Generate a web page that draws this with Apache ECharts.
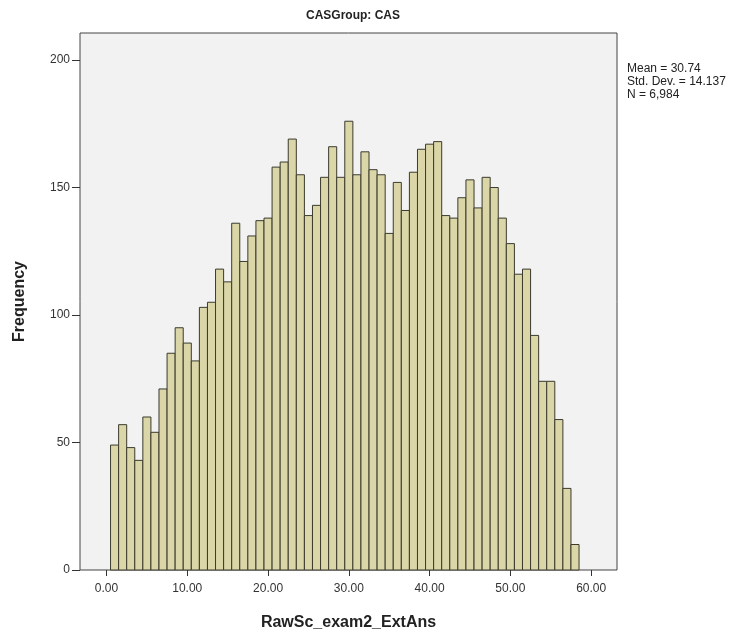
<!DOCTYPE html>
<html lang="en">

<head>
  <meta charset="UTF-8">
  <title>CASGroup: CAS</title>
  <script src="https://cdn.jsdelivr.net/npm/echarts@6/dist/echarts.min.js"></script>
</head>

<body style="margin:0;background:#fff;">
  <div id="main" style="width: 751px; height: 637px;"></div>
  <script>
    // bin centres (width 1) and the counts
    var binCenters = [1, 2, 3, 4, 5, 6, 7, 8, 9, 10, 11, 12, 13, 14, 15, 16, 17, 18, 19, 20,
      21, 22, 23, 24, 25, 26, 27, 28, 29, 30, 31, 32, 33, 34, 35, 36, 37, 38, 39, 40,
      41, 42, 43, 44, 45, 46, 47, 48, 49, 50, 51, 52, 53, 54, 55, 56, 57, 58]
    var counts = [49, 57, 48, 43, 60, 54, 71, 85, 95, 89,
      82, 103, 105, 118, 113, 136, 121, 131, 137, 138,
      158, 160, 169, 155, 139, 143, 154, 166, 154, 176,
      155, 164, 157, 155, 132, 152, 141, 156, 165, 167,
      168, 139, 138, 146, 153, 142, 154, 150, 138, 128,
      116, 118, 92, 74, 74, 59, 32, 10]
    var xTicks = [0, 10, 20, 30, 40, 50, 60]
    var yTicks = [0, 50, 100, 150, 200]
    var statsLines = ['Mean = 30.74', 'Std. Dev. = 14.137', 'N = 6,984']

    var myChart = echarts.init(document.getElementById('main'))
    var font = 'Liberation Sans, Arial, sans-serif'

    var barData = binCenters.map(function (c, i) { return [c, counts[i]] })

    var option = {
      animation: false,
      title: {
        text: 'CASGroup: CAS',
        left: 348, top: 5, textAlign: 'center',
        textStyle: { fontFamily: font, fontSize: 12, fontWeight: 'bold', color: '#222' }
      },
      graphic: [{
        type: 'text', left: 627, top: 62,
        style: {
          text: statsLines.join('\n'),
          font: '12px ' + font, fill: '#222', lineHeight: 13
        }
      }],
      grid: {
        left: 80, top: 33, right: 134, bottom: 67,
        outerBoundsMode: 'none', containLabel: false,
        show: true, backgroundColor: '#f2f2f2', borderColor: '#444', borderWidth: 1
      },
      xAxis: {
        type: 'value', min: -3.28, max: 63.2,
        name: 'RawSc_exam2_ExtAns', nameLocation: 'middle', nameGap: 45,
        nameTextStyle: { fontFamily: font, fontSize: 16, fontWeight: 'bold', color: '#222' },
        splitLine: { show: false },
        axisLine: { show: false, onZero: false },
        axisTick: { show: true, length: 6, customValues: xTicks, lineStyle: { color: '#333' } },
        axisLabel: {
          customValues: xTicks, margin: 13,
          fontFamily: font, fontSize: 12, color: '#333',
          formatter: function (v) { return v.toFixed(2) }
        }
      },
      yAxis: {
        type: 'value', min: 0, max: 210.6,
        name: 'Frequency', nameLocation: 'middle', nameGap: 52,
        nameTextStyle: { fontFamily: font, fontSize: 16, fontWeight: 'bold', color: '#222' },
        splitLine: { show: false },
        axisLine: { show: false, onZero: false },
        axisTick: { show: true, length: 8, customValues: yTicks, lineStyle: { color: '#333' } },
        axisLabel: { customValues: yTicks, margin: 10, fontFamily: font, fontSize: 12, color: '#333' }
      },
      series: [{
        type: 'custom',
        data: barData,
        renderItem: function (params, api) {
          var x = api.value(0), y = api.value(1)
          var p0 = api.coord([x - 0.5, y])
          var p1 = api.coord([x + 0.5, 0])
          return {
            type: 'rect',
            shape: { x: p0[0], y: p0[1], width: p1[0] - p0[0], height: p1[1] - p0[1] },
            style: { fill: '#dbd6a8', stroke: '#3a3a2e', lineWidth: 1 }
          }
        }
      }]
    }
    myChart.setOption(option)
  </script>
</body>

</html>
